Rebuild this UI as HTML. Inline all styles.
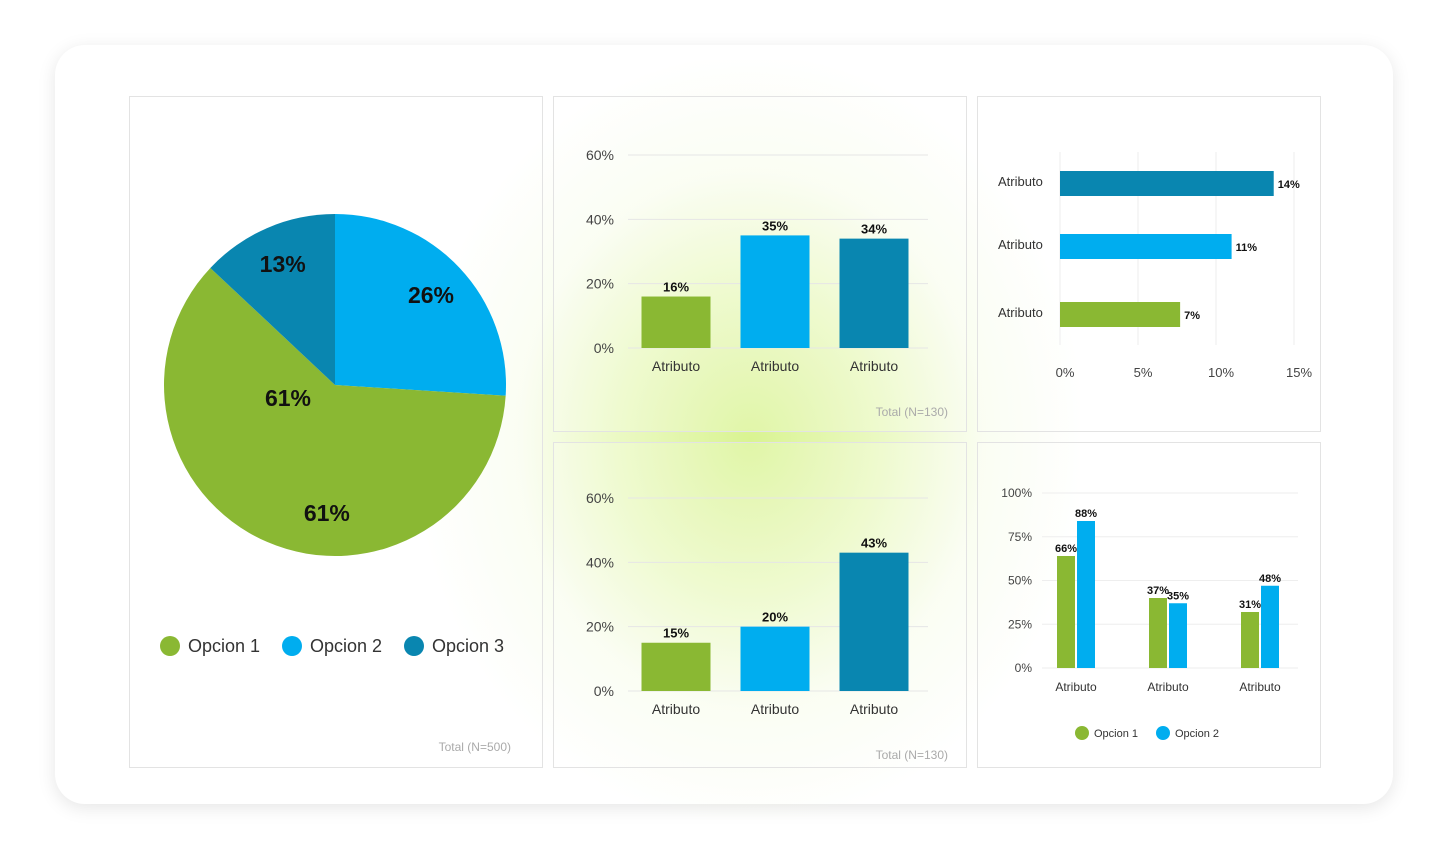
<!DOCTYPE html>
<html><head><meta charset="utf-8"><style>
body{margin:0;width:1448px;height:860px;background:#fff;overflow:hidden;font-family:"Liberation Sans",sans-serif;}
#card{position:absolute;left:55px;top:45px;width:1338px;height:759px;border-radius:30px;background:#fff;box-shadow:0 4px 18px rgba(0,0,0,0.10);}
#glow{position:absolute;left:420px;top:60px;width:660px;height:760px;background:radial-gradient(ellipse at center,rgba(215,243,140,0.95) 0%,rgba(228,247,175,0.75) 28%,rgba(242,251,220,0.4) 50%,rgba(255,255,255,0) 72%);}
.panel{position:absolute;border:1px solid #e3e3e3;background:rgba(255,255,255,0.2);}
svg{position:absolute;left:0;top:0;}
</style></head><body>
<div id="card"></div>
<div id="glow"></div>
<div class="panel" style="left:129px;top:96px;width:412px;height:670px"></div>
<div class="panel" style="left:553px;top:96px;width:412px;height:334px"></div>
<div class="panel" style="left:977px;top:96px;width:342px;height:334px"></div>
<div class="panel" style="left:553px;top:442px;width:412px;height:324px"></div>
<div class="panel" style="left:977px;top:442px;width:342px;height:324px"></div>
<svg id="s" width="1448" height="860"></svg>
<script>
const pieValues=[26,61,13];
const pieLabels=["26%","61%","13%"];
const pieNames=["Opcion 2","Opcion 1","Opcion 3"];
const bar1Cats=["Atributo","Atributo","Atributo"];
const bar1Vals=[16,35,34];
const bar2Vals=[15,20,43];
const barTicks=[0,20,40,60];
const hCats=["Atributo","Atributo","Atributo"];
const hVals=[13.7,11,7.7];
const hLabels=["14%","11%","7%"];
const hTicks=[0,5,10,15];
const gCats=["Atributo","Atributo","Atributo"];
const gOpt1=[64,40,32];
const gOpt2=[84,37,47];
const gLab1=["66%","37%","31%"];
const gLab2=["88%","35%","48%"];
const gTicks=[0,25,50,75,100];

const G="#8ab833",B="#00adef",T="#0986b0";
const s=document.getElementById('s');
function el(tag,attrs,text){const e=document.createElementNS("http://www.w3.org/2000/svg",tag);for(const k in attrs)e.setAttribute(k,attrs[k]);if(text!==undefined)e.textContent=text;s.appendChild(e);return e;}

// Pie
const cx=335,cy=385,r=171,cols=[B,G,T];
let tot=pieValues.reduce((a,b)=>a+b,0),a0=0;
pieValues.forEach((v,i)=>{
  const a1=a0+v/tot*2*Math.PI;
  const x0=cx+r*Math.sin(a0),y0=cy-r*Math.cos(a0),x1=cx+r*Math.sin(a1),y1=cy-r*Math.cos(a1);
  const p=el('path',{d:`M${cx},${cy}L${x0},${y0}A${r},${r} 0 ${a1-a0>Math.PI?1:0} 1 ${x1},${y1}Z`,fill:cols[i]});
  
  
  let am=(a0+a1)/2,lr=r*0.77;
  if(i===1){am=a0+(a1-a0)*0.41;lr=r*0.75;}
  const t=el('text',{x:cx+lr*Math.sin(am),y:cy-lr*Math.cos(am)+8,'text-anchor':'middle','font-size':23,'font-weight':'bold',fill:'#111'},pieLabels[i]);
  
  
  a0=a1;
});
const t2=el('text',{x:288,y:406,'text-anchor':'middle','font-size':23,'font-weight':'bold',fill:'#111'},pieLabels[1]);


[[170,G,"Opcion 1"],[292,B,"Opcion 2"],[414,T,"Opcion 3"]].forEach(l=>{
  const c=el('circle',{cx:l[0],cy:646,r:10,fill:l[1]});
  
  
  const t=el('text',{x:l[0]+18,y:652,'font-size':18,fill:'#333'},l[2]);
  
  
});
const tp=el('text',{x:511,y:751,'text-anchor':'end','font-size':12,fill:'#aaa'},"Total (N=500)");



function vbar(vals,y0,tag){
  const py=v=>y0-v*3.217;
  barTicks.forEach(t=>{
    const l=el('line',{x1:628,x2:928,y1:py(t),y2:py(t),stroke:'#e6e6e6'});
    
    
    const tx=el('text',{x:614,y:py(t)+5,'text-anchor':'end','font-size':14,fill:'#444'},t+"%");
    
    
  });
  const cs=[G,B,T];
  vals.forEach((v,i)=>{
    const xc=676+i*99;
    const b=el('rect',{x:xc-34.5,y:py(v),width:69,height:v*3.217,fill:cs[i]});
    
    
    const vl=el('text',{x:xc,y:py(v)-5,'text-anchor':'middle','font-size':13,'font-weight':'bold',fill:'#111'},v+"%");
    
    
    const cl=el('text',{x:xc,y:y0+23,'text-anchor':'middle','font-size':14,fill:'#333'},bar1Cats[i]);
    
    
  });
  const tt=el('text',{x:948,y:y0+68,'text-anchor':'end','font-size':12,fill:'#aaa'},"Total (N=130)");
  
  
}
vbar(bar1Vals,348,'top');
vbar(bar2Vals,691,'bottom');

const hx=v=>1060+v*15.6;
hTicks.forEach(t=>{
  const l=el('line',{x1:hx(t),x2:hx(t),y1:152,y2:345,stroke:'#eee'});
  
  
  const tx=el('text',{x:hx(t)+5,y:377,'text-anchor':'middle','font-size':13,fill:'#444'},t+"%");
  
  
});
const hy=[171,234,302],hc=[T,B,G];
hVals.forEach((v,i)=>{
  const b=el('rect',{x:1060,y:hy[i],width:v*15.6,height:25,fill:hc[i]});
  
  
  const vl=el('text',{x:hx(v)+4,y:hy[i]+17,'font-size':11,'font-weight':'bold',fill:'#111'},hLabels[i]);
  
  
  const cl=el('text',{x:998,y:hy[i]+15,'font-size':13,fill:'#333'},hCats[i]);
  
  
});

const gy=v=>668-v*1.75;
gTicks.forEach(t=>{
  const l=el('line',{x1:1042,x2:1298,y1:gy(t),y2:gy(t),stroke:'#eee'});
  
  
  const tx=el('text',{x:1032,y:gy(t)+4,'text-anchor':'end','font-size':12,fill:'#444'},t+"%");
  
  
});
gCats.forEach((c,i)=>{
  const xc=1076+i*92;
  const b1=el('rect',{x:xc-19,y:gy(gOpt1[i]),width:18,height:gOpt1[i]*1.75,fill:G});
  
  
  const b2=el('rect',{x:xc+1,y:gy(gOpt2[i]),width:18,height:gOpt2[i]*1.75,fill:B});
  
  
  const l1=el('text',{x:xc-10,y:gy(gOpt1[i])-4,'text-anchor':'middle','font-size':11,'font-weight':'bold',fill:'#111'},gLab1[i]);
  
  
  const l2=el('text',{x:xc+10,y:gy(gOpt2[i])-4,'text-anchor':'middle','font-size':11,'font-weight':'bold',fill:'#111'},gLab2[i]);
  
  
  const cl=el('text',{x:xc,y:691,'text-anchor':'middle','font-size':12,fill:'#333'},c);
  
  
});
[[1082,G,"Opcion 1"],[1163,B,"Opcion 2"]].forEach(l=>{
  const c=el('circle',{cx:l[0],cy:733,r:7,fill:l[1]});
  
  
  const t=el('text',{x:l[0]+12,y:737,'font-size':11,fill:'#333'},l[2]);
  
  
});
</script>
</body></html>
